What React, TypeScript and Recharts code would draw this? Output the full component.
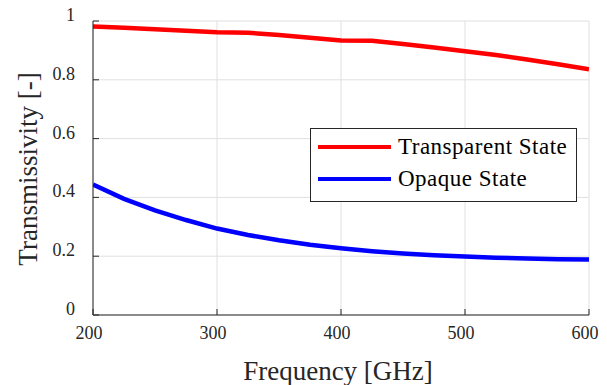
import React from 'react';
import {CartesianGrid, Label, Legend, Line, LineChart, XAxis, YAxis} from 'recharts';

// frequency samples in GHz
const frequency = [200, 225, 250, 275, 300, 325, 350, 375, 400, 425, 450, 475, 500, 525, 550, 575, 600];
const transparentState = [0.981, 0.977, 0.972, 0.967, 0.962, 0.960, 0.952, 0.943, 0.934, 0.933, 0.922, 0.910, 0.897, 0.884, 0.869, 0.853, 0.836];
const opaqueState = [0.444, 0.395, 0.356, 0.323, 0.294, 0.272, 0.254, 0.239, 0.227, 0.217, 0.209, 0.203, 0.199, 0.195, 0.192, 0.190, 0.189];

const seriesNames = ['Transparent State', 'Opaque State'];
const xTicks = [200, 300, 400, 500, 600];
const yTicks = [0, 0.2, 0.4, 0.6, 0.8, 1];

const data = frequency.map((f, i) => ({
	f,
	transparent: transparentState[i],
	opaque: opaqueState[i],
}));

const FONT = "'Liberation Serif', 'DejaVu Serif', serif";
const INK = '#262626';

const XTick = (props: any) => {
	const {x, y, payload} = props;
	return <text x={x - 4} y={y} dy="0.71em" textAnchor="middle" fill={INK} style={{fontFamily: FONT, fontSize: 18}}>
		{payload.value}
	</text>;
};

const YTick = (props: any) => {
	const {x, y, payload} = props;
	return <text x={x} y={y - 6} textAnchor="end" dominantBaseline="central" fill={INK} style={{fontFamily: FONT, fontSize: 18}}>
		{payload.value}
	</text>;
};

const renderLegend = (props: any) => {
	const items = [...(props.payload || [])].sort((a: any, b: any) => seriesNames.indexOf(a.value) - seriesNames.indexOf(b.value));
	return <div style={{
		width: 265, height: 70, border: '1px solid ' + INK, background: '#fff',
		boxSizing: 'content-box', paddingTop: 2,
	}}>
		{items.map((it: any, i: number) => (
			<div key={i} style={{display: 'flex', alignItems: 'center', height: 32, marginLeft: 7}}>
				<div style={{width: 73, height: 4, background: it.color, marginRight: 7}}/>
				<span style={{fontFamily: FONT, fontSize: 23, letterSpacing: 0.5, color: '#000'}}>{it.value}</span>
			</div>
		))}
	</div>;
};

export default function App() {
	return <div style={{position: 'absolute', left: 0, top: 0, background: '#fff', fontFamily: FONT}}>
		<LineChart width={607} height={385} data={data} margin={{top: 21, right: 18, bottom: 0, left: 13}}>
			<CartesianGrid stroke="#e0e0e0" strokeWidth={1}/>
			<XAxis dataKey="f" type="number" domain={[200, 600]} ticks={xTicks} height={70}
				stroke={INK} tickSize={-6} tickMargin={17} tick={<XTick/>} allowDataOverflow>
				<Label content={(p: any) => {
					const vb = p.viewBox;
					return <text x={vb.x + vb.width / 2 - 3} y={vb.y + 65} textAnchor="middle" fill={INK} style={{fontFamily: FONT, fontSize: 27}}>
						Frequency [GHz]
					</text>;
				}}/>
			</XAxis>
			<XAxis xAxisId="top" orientation="top" dataKey="f" type="number" domain={[200, 600]} ticks={xTicks}
				height={0} stroke={INK} tickSize={-6} tickFormatter={() => ''}/>
			<YAxis type="number" domain={[0, 1]} ticks={yTicks} width={80} stroke={INK}
				tickSize={-6} tickMargin={24} tick={<YTick/>}>
				<Label content={(p: any) => {
					const vb = p.viewBox;
					const cx = 37;
					const cy = vb.y + vb.height / 2 + 1;
					return <text x={cx} y={cy} transform={`rotate(-90 ${cx} ${cy})`} textAnchor="middle" fill={INK} style={{fontFamily: FONT, fontSize: 27}}>
						Transmissivity [-]
					</text>;
				}}/>
			</YAxis>
			<YAxis yAxisId="right" orientation="right" type="number" domain={[0, 1]} ticks={yTicks} width={0}
				stroke={INK} tickSize={-6} tickFormatter={() => ''}/>
			<Legend content={renderLegend} layout="horizontal" verticalAlign="middle" align="center"
				wrapperStyle={{left: 310, top: 128, width: 267, height: 73}}/>
			<Line dataKey="transparent" name="Transparent State" stroke="#ff0000" strokeWidth={4.5} dot={false} isAnimationActive={false} type="linear"/>
			<Line dataKey="opaque" name="Opaque State" stroke="#0000ff" strokeWidth={4.5} dot={false} isAnimationActive={false} type="linear"/>
		</LineChart>
	</div>;
}
